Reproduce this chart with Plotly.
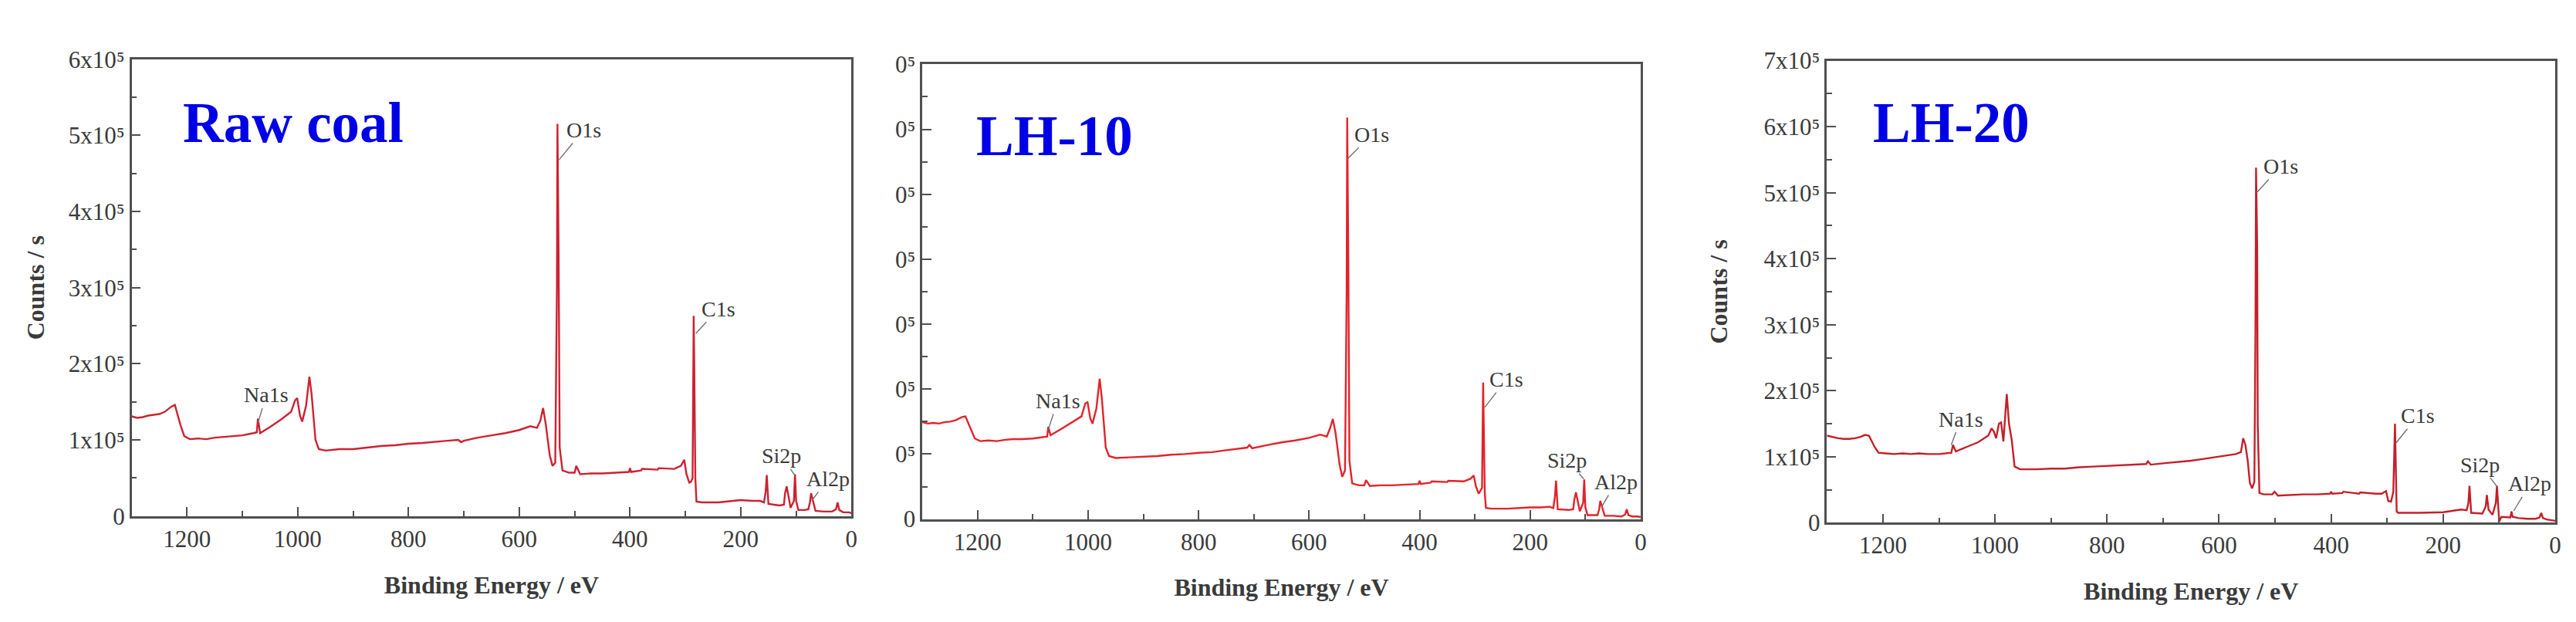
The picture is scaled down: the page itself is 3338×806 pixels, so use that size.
import plotly.graph_objects as go

# ---------------- data (counts/s) ----------------
raw_energy = [1300, 1290, 1280, 1270, 1260, 1250, 1240, 1228, 1222, 1212, 1205, 1195, 1180, 1165, 1150, 1135,
              1120, 1100, 1080, 1074, 1072, 1068, 1050, 1030, 1012, 1005, 1001, 996, 992, 985, 979, 975, 968,
              962, 950, 925, 900, 875, 850, 825, 800, 775, 750, 730, 710, 705, 700, 675, 650, 625, 600, 580, 568,
              562, 557, 552, 545, 540, 535, 532, 531, 529, 527, 522, 510, 500, 497, 490, 470, 450, 425, 402, 400,
              398, 380, 378, 350, 348, 320, 308, 302, 298, 293, 290, 287, 285, 284, 282, 280, 270, 240, 200, 180,
              165, 158, 155, 153, 150, 130, 122, 120, 117, 110, 104, 102, 100, 96, 85, 78, 75, 73, 65, 50, 35, 28,
              25, 22, 15, 5, 0]
raw_counts = [131000, 129000, 130000, 132000, 133000, 134000, 137000, 144000, 146000, 120000, 105000, 101000,
              102000, 101000, 103000, 104000, 105000, 106000, 109000, 110000, 128000, 109000, 117000, 127000,
              137000, 152000, 155000, 132000, 124000, 145000, 183000, 160000, 100000, 88000, 86000, 88000, 88000,
              90000, 92000, 93000, 95000, 96000, 98000, 99000, 100000, 97000, 99000, 103000, 106000, 109000,
              113000, 118000, 116000, 125000, 142000, 120000, 80000, 66000, 70000, 300000, 515000, 350000, 90000,
              60000, 57000, 57000, 66000, 55000, 56000, 56000, 57000, 58000, 63000, 58000, 60000, 62000, 61000,
              63000, 62000, 66000, 74000, 55000, 44000, 45000, 50000, 263000, 200000, 50000, 19000, 18000, 18000,
              21000, 20000, 20000, 18000, 32000, 54000, 16000, 14000, 15000, 30000, 39000, 11000, 20000, 55000,
              20000, 8000, 8000, 9000, 18000, 30000, 7000, 6000, 6000, 9000, 18000, 8000, 5000, 5000, 4000]

lh10_energy = [1300, 1290, 1280, 1270, 1260, 1250, 1240, 1228, 1222, 1212, 1205, 1195, 1180, 1165, 1150, 1135,
               1120, 1100, 1080, 1074, 1072, 1068, 1050, 1030, 1012, 1005, 1001, 996, 992, 985, 979, 975, 968,
               962, 950, 925, 900, 875, 850, 825, 800, 775, 750, 730, 712, 708, 703, 675, 650, 625, 600, 580, 568,
               562, 557, 552, 545, 540, 535, 532, 531, 529, 527, 522, 510, 500, 497, 490, 470, 450, 425, 402, 400,
               398, 380, 378, 350, 348, 320, 308, 302, 298, 293, 290, 287, 285, 284, 282, 280, 270, 240, 200, 180,
               165, 158, 155, 153, 150, 130, 122, 120, 117, 110, 104, 102, 100, 96, 85, 78, 75, 73, 65, 50, 35, 28,
               25, 22, 15, 5, 0]
lh10_counts = [149000, 147000, 148000, 147000, 149000, 150000, 152000, 157000, 158000, 138000, 124000, 120000,
               121000, 120000, 122000, 123000, 123000, 124000, 126000, 127000, 142000, 129000, 138000, 148000,
               158000, 178000, 180000, 155000, 147000, 170000, 216000, 185000, 110000, 97000, 94000, 95000, 96000,
               97000, 99000, 100000, 102000, 103000, 106000, 108000, 110000, 114000, 109000, 114000, 118000,
               121000, 125000, 130000, 127000, 140000, 154000, 132000, 85000, 65000, 75000, 350000, 618000, 400000,
               90000, 55000, 52000, 52000, 60000, 51000, 52000, 52000, 53000, 54000, 59000, 54000, 56000, 58000,
               57000, 59000, 58000, 62000, 67000, 50000, 39000, 43000, 48000, 210000, 160000, 40000, 17000, 16000,
               16000, 18000, 18000, 19000, 17000, 35000, 59000, 15000, 14000, 15000, 30000, 41000, 12000, 25000,
               61000, 18000, 6000, 6000, 6000, 15000, 28000, 5000, 5000, 4000, 7000, 15000, 6000, 4000, 4000, 3000]

lh20_energy = [1300, 1290, 1280, 1270, 1260, 1250, 1240, 1232, 1225, 1215, 1208, 1195, 1180, 1165, 1150, 1135,
               1120, 1100, 1085, 1078, 1075, 1070, 1050, 1030, 1012, 1006, 1002, 998, 993, 989, 985, 982, 979,
               975, 970, 965, 955, 925, 900, 875, 850, 825, 800, 775, 750, 730, 727, 722, 700, 675, 650, 625, 600,
               585, 570, 564, 561, 557, 553, 549, 545, 541, 537, 535, 534, 532, 531, 528, 520, 505, 501, 495, 470,
               450, 425, 402, 400, 398, 380, 378, 350, 348, 320, 310, 302, 298, 293, 289, 286, 285, 283, 280, 270,
               240, 200, 180, 168, 158, 155, 153, 150, 130, 124, 122, 119, 112, 106, 104, 102, 100, 96, 85, 80,
               78, 76, 65, 50, 35, 28, 25, 22, 15, 5, 0]
lh20_counts = [132000, 130000, 128000, 127000, 127000, 128000, 130000, 133000, 132000, 115000, 106000, 105000,
               104000, 105000, 104000, 105000, 104000, 104000, 105000, 106000, 118000, 108000, 115000, 122000,
               132000, 143000, 138000, 128000, 150000, 152000, 123000, 160000, 195000, 150000, 125000, 85000,
               81000, 81000, 82000, 82000, 84000, 85000, 86000, 87000, 88000, 89000, 93000, 88000, 90000, 92000,
               94000, 97000, 100000, 102000, 104000, 106000, 107000, 128000, 118000, 95000, 60000, 52000, 62000,
               300000, 538000, 420000, 150000, 45000, 43000, 43000, 47000, 41000, 42000, 43000, 43000, 44000,
               47000, 44000, 45000, 47000, 44000, 46000, 44000, 44000, 48000, 33000, 32000, 47000, 150000, 100000,
               17000, 15000, 15000, 15000, 16000, 18000, 20000, 19000, 30000, 56000, 15000, 14000, 25000, 42000,
               20000, 12000, 30000, 56000, 30000, 2000, 9000, 8000, 8000, 17000, 9000, 7000, 6000, 6000, 8000,
               15000, 7000, 5000, 4000, 3000]

panel_names = ["Raw coal", "LH-10", "LH-20"]
panel_title_pos = [(1210, 516000), (1205, 589000), (1220, 605000)]

peak_labels = ["O1s", "C1s", "Na1s", "Si2p", "Al2p"]
# arrow tip (energy, counts) and text centre (energy, counts) per panel
raw_tip = [(528, 468000), (281, 240000), (1072, 122000), (102, 53000), (72, 20000)]
raw_text = [(484, 507000), (240, 272000), (1057, 159000), (126, 79000), (42, 49000)]
lh10_tip = [(530, 555000), (282, 172000), (1072, 138000), (103, 62000), (71, 18000)]
lh10_text = [(486, 592000), (243, 215000), (1055, 182000), (133, 90000), (44, 57000)]
lh20_tip = [(533, 500000), (285, 120000), (1078, 118000), (104, 55000), (74, 18000)]
lh20_text = [(490, 540000), (245, 162000), (1061, 157000), (134, 88000), (45, 59000)]

x_ticks = [0, 200, 400, 600, 800, 1000, 1200]
y_ticks_raw = [0, 100000, 200000, 300000, 400000, 500000, 600000]
y_text_raw = ["0", "1x10⁵", "2x10⁵", "3x10⁵", "4x10⁵", "5x10⁵", "6x10⁵"]
y_ticks_lh = [0, 100000, 200000, 300000, 400000, 500000, 600000, 700000]
y_text_lh10 = ["0"] + ["0⁵"] * 7
y_text_lh20 = ["0", "1x10⁵", "2x10⁵", "3x10⁵", "4x10⁵", "5x10⁵", "6x10⁵", "7x10⁵"]

# ---------------- figure ----------------
W, H = 3338, 806
SERIF = "Liberation Serif"
AX_COL = "#505050"
TXT_COL = "#3a3a3a"

fig = go.Figure()

series = [
    (raw_energy, raw_counts, "#cc2230", "x", "y"),
    (lh10_energy, lh10_counts, "#e2232b", "x2", "y2"),
    (lh20_energy, lh20_counts, "#c41f28", "x3", "y3"),
]
for e, c, col, xa, ya in series:
    fig.add_trace(go.Scatter(x=e, y=c, mode="lines", line=dict(color=col, width=2.4),
                             xaxis=xa, yaxis=ya, showlegend=False, hoverinfo="skip"))

# pixel boxes of each plot area: (left, right, top, bottom)
boxes = [(163, 1098, 54, 673), (1190, 2123, 61, 677), (2365, 3311, 56, 682)]
yranges = [600000, 700000, 700000]
yticks = [(y_ticks_raw, y_text_raw), (y_ticks_lh, y_text_lh10), (y_ticks_lh, y_text_lh20)]
ytitles = ["Counts / s", None, "Counts / s"]
ystandoffs = [22, 30, 38]

layout = dict(width=W, height=H, margin=dict(l=0, r=0, t=0, b=0),
              paper_bgcolor="white", plot_bgcolor="white", showlegend=False)

for i, (l, r, t, b) in enumerate(boxes):
    sfx = "" if i == 0 else str(i + 1)
    layout["xaxis" + sfx] = dict(
        domain=[l / W, r / W], anchor="y" + sfx, range=[1300, 0],
        tickvals=x_ticks, ticks="inside", ticklen=12, tickwidth=2, tickcolor=AX_COL,
        minor=dict(ticks="inside", ticklen=7, tickwidth=2, tickcolor=AX_COL, tick0=0, dtick=100),
        showline=True, linecolor=AX_COL, linewidth=2.5, mirror=True,
        showgrid=False, zeroline=False,
        tickfont=dict(family=SERIF, size=31, color=TXT_COL),
        title=dict(text="<b>Binding Energy / eV</b>", font=dict(family=SERIF, size=32, color=TXT_COL),
                   standoff=32),
    )
    tv, tt = yticks[i]
    yax = dict(
        domain=[1 - b / H, 1 - t / H], anchor="x" + sfx, range=[0, yranges[i]],
        tickvals=tv, ticktext=tt, ticks="inside", ticklen=12, tickwidth=2, tickcolor=AX_COL,
        minor=dict(ticks="inside", ticklen=7, tickwidth=2, tickcolor=AX_COL, tick0=0, dtick=50000),
        showline=True, linecolor=AX_COL, linewidth=2.5, mirror=True,
        showgrid=False, zeroline=False,
        tickfont=dict(family=SERIF, size=31, color=TXT_COL),
    )
    if ytitles[i]:
        yax["title"] = dict(text="<b>%s</b>" % ytitles[i],
                            font=dict(family=SERIF, size=32, color=TXT_COL), standoff=ystandoffs[i])
    layout["yaxis" + sfx] = yax

annotations = []
for i, name in enumerate(panel_names):
    sfx = "" if i == 0 else str(i + 1)
    px, py = panel_title_pos[i]
    annotations.append(dict(x=px, y=py, xref="x" + sfx, yref="y" + sfx, text="<b>%s</b>" % name,
                            showarrow=False, xanchor="left", yanchor="middle",
                            font=dict(family=SERIF, size=73, color="#0000e6")))

for i, (tips, texts) in enumerate([(raw_tip, raw_text), (lh10_tip, lh10_text), (lh20_tip, lh20_text)]):
    sfx = "" if i == 0 else str(i + 1)
    for lab, (tx, ty), (ax, ay) in zip(peak_labels, tips, texts):
        annotations.append(dict(x=tx, y=ty, xref="x" + sfx, yref="y" + sfx,
                                ax=ax, ay=ay, axref="x" + sfx, ayref="y" + sfx,
                                text=lab, showarrow=True, arrowhead=0, arrowwidth=1.4,
                                arrowcolor="#707070", standoff=0, startstandoff=0,
                                font=dict(family=SERIF, size=28, color=TXT_COL)))

layout["annotations"] = annotations
fig.update_layout(**layout)
fig.write_html("out.html")
